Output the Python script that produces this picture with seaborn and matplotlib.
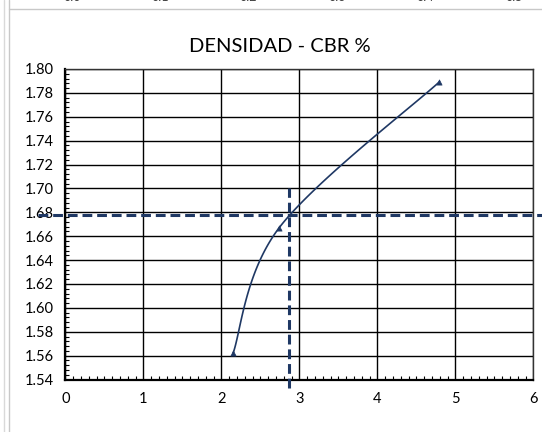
import numpy as np
import pandas as pd
import matplotlib
matplotlib.use("Agg")
import matplotlib.pyplot as plt
from matplotlib.lines import Line2D
from matplotlib.ticker import MultipleLocator, FormatStrFormatter
import seaborn as sns

# CBR (%) vs dry density readings
cbr = [2.15, 2.74, 4.79]
densidad = [1.562, 1.667, 1.789]

# design density and the CBR
densidad_diseno = 1.678
cbr_diseno = 2.87

x_ticks = [0, 1, 2, 3, 4, 5, 6]
y_ticks = [1.54, 1.56, 1.58, 1.60, 1.62, 1.64, 1.66, 1.68, 1.70, 1.72, 1.74, 1.76, 1.78, 1.80]
header_labels = ["0.0", "0.1", "0.2", "0.3", "0.4", "0.5"]

NAVY = "#1F3864"

sns.set_theme(style="white")
plt.rcParams["font.family"] = ["Lato", "DejaVu Sans"]

fig = plt.figure(figsize=(5.42, 4.32), dpi=100)
ax = fig.add_axes([0.1205, 0.1215, 0.8638, 0.7188])

xmin, xmax = x_ticks[0], x_ticks[-1]
ymin, ymax = y_ticks[0], y_ticks[-1]
ax.set_xlim(xmin, xmax)
ax.set_ylim(ymin, ymax)

# smoothed curve: cubic Bezier segments with 1/6 tangents, built in screen-proportional space
W, H = 468.0, 311.0
pts = np.column_stack([(np.array(cbr) - xmin) / (xmax - xmin) * W,
                       (np.array(densidad) - ymin) / (ymax - ymin) * H])
n = len(pts)
curve = []
t = np.linspace(0, 1, 60)[:, None]
for i in range(n - 1):
    p0, p3 = pts[i], pts[i + 1]
    prev = pts[i - 1] if i > 0 else pts[i]
    nxt = pts[i + 2] if i + 2 < n else pts[i + 1]
    c1 = p0 + (p3 - prev) / 6.0
    c2 = p3 - (nxt - p0) / 6.0
    seg = ((1 - t) ** 3) * p0 + 3 * ((1 - t) ** 2) * t * c1 + 3 * (1 - t) * t ** 2 * c2 + t ** 3 * p3
    curve.append(seg if i == 0 else seg[1:])
curve = np.vstack(curve)
smooth = pd.DataFrame({
    "cbr": xmin + curve[:, 0] / W * (xmax - xmin),
    "densidad": ymin + curve[:, 1] / H * (ymax - ymin),
})
sns.lineplot(data=smooth, x="cbr", y="densidad", sort=False, estimator=None,
             color=NAVY, linewidth=1.2, ax=ax, zorder=4)
sns.scatterplot(x=cbr, y=densidad, marker="^", s=14, color=NAVY,
                edgecolor=NAVY, linewidth=0.5, ax=ax, zorder=5)

# design lines (extend past the plot frame)
ax.add_line(Line2D([-0.35, 6.12], [densidad_diseno, densidad_diseno], color=NAVY,
                   linewidth=2.2, linestyle=(0, (3.2, 1.6)), clip_on=False, zorder=6))
ax.add_line(Line2D([cbr_diseno, cbr_diseno], [1.5325, 1.70], color=NAVY,
                   linewidth=2.2, linestyle=(0, (3.2, 1.6)), clip_on=False, zorder=6))

# grid and frame
ax.set_xticks(x_ticks)
ax.set_yticks(y_ticks)
ax.yaxis.set_major_formatter(FormatStrFormatter("%.2f"))
ax.xaxis.set_minor_locator(MultipleLocator(0.1))
ax.yaxis.set_minor_locator(MultipleLocator(0.004))
ax.grid(True, which="major", color="black", linewidth=1.0)
ax.set_axisbelow(True)
ax.tick_params(which="major", length=0, labelsize=10.5, colors="black", pad=8)
ax.tick_params(axis="x", which="major", pad=9)
ax.tick_params(which="minor", direction="in", length=3, width=0.8, color="black",
               bottom=True, left=True)
for side in ["left", "bottom"]:
    ax.spines[side].set_color("black")
    ax.spines[side].set_linewidth(1.6)
for side in ["top", "right"]:
    ax.spines[side].set_color("#333333")
    ax.spines[side].set_linewidth(1.0)
ax.set_xlabel("")
ax.set_ylabel("")

fig.text(0.517, 0.893, "DENSIDAD - CBR %", ha="center", va="center", fontsize=14.5,
         color="black")

# chart frame edge and the axis labels of the chart above
fig.add_artist(Line2D([3.5 / 542, 3.5 / 542], [0, 1], color="#d9d9d9", linewidth=1.0))
fig.add_artist(Line2D([8.5 / 542, 8.5 / 542], [0, 1], color="#c8c8c8", linewidth=1.0))
fig.add_artist(Line2D([8.5 / 542, 1], [1 - 8.5 / 432, 1 - 8.5 / 432], color="#c8c8c8",
                      linewidth=1.0))
for i, lab in enumerate(header_labels):
    fig.text((72 + i * 88.4) / 542, 1 - 3 / 432, lab, ha="center", va="bottom",
             fontsize=9, color="#404040")

fig.savefig("out.png", dpi=100)
